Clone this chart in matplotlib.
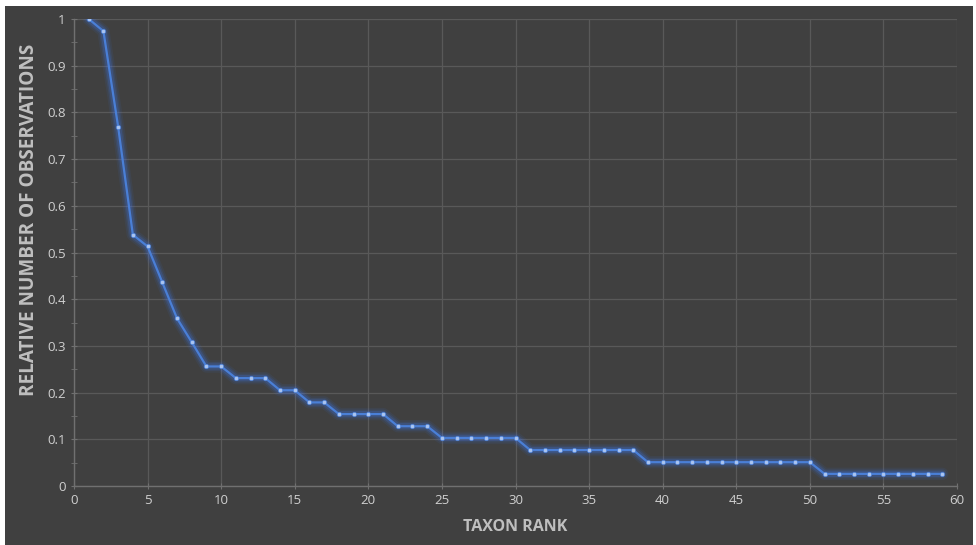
import matplotlib
matplotlib.use("Agg")
import matplotlib.pyplot as plt
from matplotlib.ticker import MultipleLocator
import matplotlib.patches as mpatches

rank = list(range(1, 60))
rel_obs = [1.0, 0.974, 0.769, 0.538, 0.513, 0.436, 0.359, 0.308, 0.256, 0.256,
           0.231, 0.231, 0.231, 0.205, 0.205, 0.179, 0.179, 0.154, 0.154, 0.154,
           0.154, 0.128, 0.128, 0.128, 0.103, 0.103, 0.103, 0.103, 0.103, 0.103,
           0.077, 0.077, 0.077, 0.077, 0.077, 0.077, 0.077, 0.077,
           0.051, 0.051, 0.051, 0.051, 0.051, 0.051, 0.051, 0.051, 0.051, 0.051, 0.051, 0.051,
           0.026, 0.026, 0.026, 0.026, 0.026, 0.026, 0.026, 0.026, 0.026]
x_label = "TAXON RANK"
y_label = "RELATIVE NUMBER OF OBSERVATIONS"

plt.rcParams['font.family'] = ['Open Sans', 'DejaVu Sans']
bg = '#404040'
fig = plt.figure(figsize=(9.76, 5.45), dpi=100, facecolor='white')
fig.patches.append(mpatches.Rectangle((5/976, 0), (973-5)/976, 1 - 6/545,
                                      transform=fig.transFigure, facecolor=bg,
                                      edgecolor='none', zorder=-10))
ax = fig.add_axes([74/976, 1 - 486/545, (957-74)/976, (486-19)/545])
ax.set_facecolor(bg)
ax.set_xlim(0, 60)
ax.set_ylim(0, 1)
ax.xaxis.set_major_locator(MultipleLocator(5))
ax.yaxis.set_major_locator(MultipleLocator(0.1))
ax.yaxis.set_minor_locator(MultipleLocator(0.05))
ax.grid(True, which='major', color='#595959', linewidth=0.9)
ax.set_axisbelow(True)
for s in ['top', 'right']:
    ax.spines[s].set_visible(False)
for s in ['left', 'bottom']:
    ax.spines[s].set_color('#707070')
    ax.spines[s].set_linewidth(1.0)
ax.tick_params(axis='both', which='major', colors='#707070', labelcolor='#d0d0d0',
               labelsize=9.5, length=5, direction='inout')
ax.tick_params(axis='y', which='minor', colors='#707070', length=4, direction='inout')
ax.set_yticks([0, 0.1, 0.2, 0.3, 0.4, 0.5, 0.6, 0.7, 0.8, 0.9, 1.0])
ax.set_yticklabels(['0', '0.1', '0.2', '0.3', '0.4', '0.5', '0.6', '0.7', '0.8', '0.9', '1'])

# glow
for lw, a in [(9, 0.07), (6.5, 0.11), (4.5, 0.18)]:
    ax.plot(rank, rel_obs, color='#3d7bff', linewidth=lw, alpha=a,
            solid_capstyle='round', solid_joinstyle='round')
ax.plot(rank, rel_obs, color='#4a7fd6', linewidth=1.6, marker='o', markersize=3.2,
        markerfacecolor='#a9c4f0', markeredgecolor='#4a7fd6', markeredgewidth=0.5)

ax.set_xlabel(x_label, color='#bfbfbf', fontsize=11.5, fontweight='bold')
ax.set_ylabel(y_label, color='#bfbfbf', fontsize=13.6, fontweight='bold')
ax.xaxis.set_label_coords(0.5, -0.070)
ax.yaxis.set_label_coords(-0.040, 0.570)
fig.savefig('out.png', dpi=100, facecolor='white')
